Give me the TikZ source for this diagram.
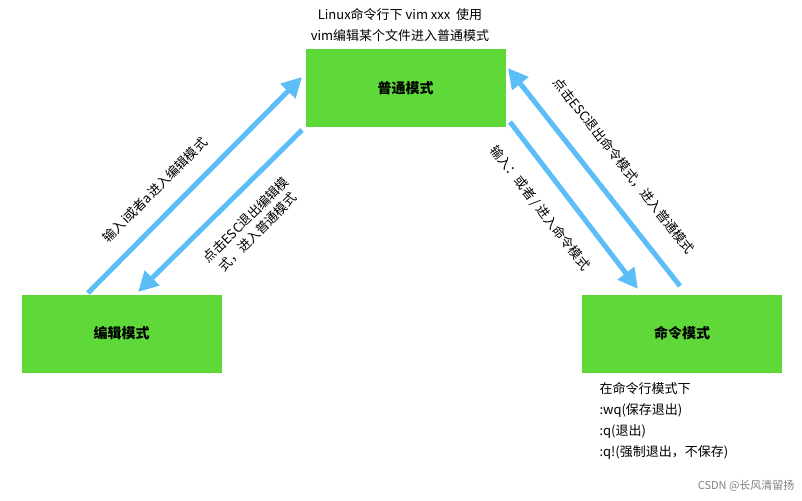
\documentclass[tikz,border=0pt]{standalone}
\usepackage{fontspec}
\setmainfont{Noto Sans CJK SC}
\usetikzlibrary{arrows.meta}
\definecolor{gbox}{HTML}{5FD93A}
\definecolor{arr}{HTML}{5BBEF7}
\begin{document}
\begin{tikzpicture}[x=1pt,y=-1pt,
  box/.style={fill=gbox,draw=none,minimum width=200pt,minimum height=78pt,font=\fontsize{14}{16}\selectfont\bfseries},
  ar/.style={draw=arr,line width=5pt,-{Triangle[length=20pt,width=20pt]}},
  lab/.style={font=\fontsize{13}{17}\selectfont,align=center,inner sep=1pt},
  txt/.style={font=\fontsize{13}{21}\selectfont,align=left}]
\useasboundingbox (0,0) rectangle (802,500);
\node[box] (top) at (405.5,88) {普通模式};
\node[box] (left) at (121.5,333.5) {编辑模式};
\node[box] (right) at (682,333.5) {命令模式};
\coordinate (a1s) at (88,293); \coordinate (a1e) at (302,77);
\coordinate (a2s) at (302,130); \coordinate (a2e) at (138,292);
\coordinate (a3s) at (510,122); \coordinate (a3e) at (638,289);
\coordinate (a4s) at (680,286); \coordinate (a4e) at (508,68);
\draw[ar] (a1s) -- (a1e);
\draw[ar] (a2s) -- (a2e);
\draw[ar] (a3s) -- (a3e);
\draw[ar] (a4s) -- (a4e);
\node[lab,rotate=45] (l1) at (155,190) {输入i或者a进入编辑模式};
\node[lab,rotate=45] (l2) at (252,226) {点击ESC退出编辑模\\式，进入普通模式};
\node[lab,rotate=-52] (l3) at (540,208) {输入：或者 / 进入命令模式};
\node[lab,rotate=-52] (l4) at (624,166) {点击ESC退出命令模式，进入普通模式};
\node[txt,align=center] (t1) at (400,25) {Linux命令行下 vim xxx\ \ 使用\\vim编辑某个文件进入普通模式};
\node[txt,anchor=north west] (t2) at (596,379) {在命令行模式下\\:wq(保存退出)\\:q(退出)\\:q!(强制退出，不保存)};
\node[font=\fontsize{11}{13}\selectfont,text=gray,anchor=east] (wm) at (798,486) {CSDN @长风清留扬};
\end{tikzpicture}
\end{document}
